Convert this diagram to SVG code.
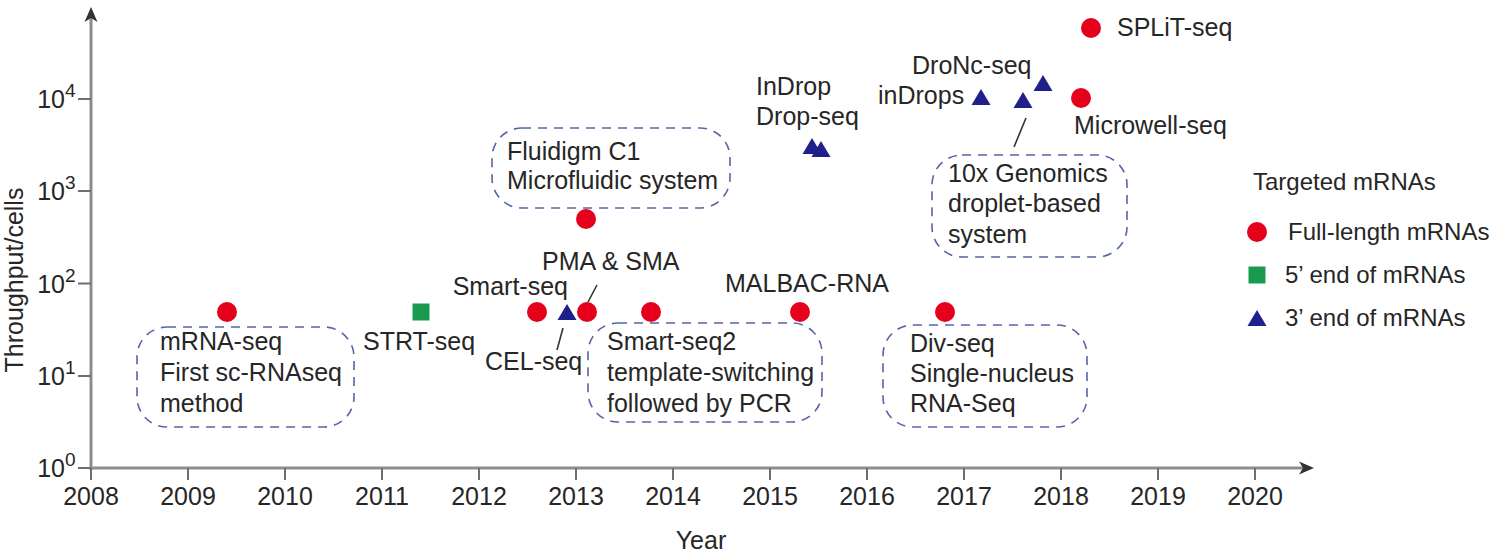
<svg xmlns="http://www.w3.org/2000/svg" width="1498" height="557" viewBox="0 0 1498 557">
<style>
text{font-family:"Liberation Sans",Arial,sans-serif;font-size:25px;fill:#262626}
.sup{font-size:19px}
.leg{font-size:24px}
.axis{stroke:#8c8c8c;stroke-width:3;fill:none}
.tick{stroke:#6e6e6e;stroke-width:2}
.box{fill:none;stroke:#5565a8;stroke-width:1.6;stroke-dasharray:9 7}
.lead{stroke:#333;stroke-width:1.6}
.red{fill:#e5001b}
.green{fill:#1a9a4f}
.blue{fill:#20208a}
</style>
<defs>
<circle id="dot" r="10" class="red"/>
<rect id="sq" x="-8.5" y="-8.5" width="17" height="17" class="green"/>
<polygon id="tri" points="0,-9 -9.5,7 9.5,7" class="blue"/>
</defs>
<g id="axes">
<line class="axis" x1="91" y1="468" x2="1305" y2="468"/>
<line class="axis" x1="91" y1="470" x2="91" y2="16"/>
<polygon points="1314,468 1299,461.5 1303,468 1299,474.5" fill="#333"/>
<polygon points="91,7 84.5,22 91,18 97.5,22" fill="#333"/>
<g class="tick">
<line x1="91" y1="468" x2="91" y2="480"/><line x1="188" y1="468" x2="188" y2="480"/><line x1="285" y1="468" x2="285" y2="480"/><line x1="382" y1="468" x2="382" y2="480"/><line x1="479" y1="468" x2="479" y2="480"/><line x1="576" y1="468" x2="576" y2="480"/><line x1="673" y1="468" x2="673" y2="480"/><line x1="770" y1="468" x2="770" y2="480"/><line x1="867" y1="468" x2="867" y2="480"/><line x1="964" y1="468" x2="964" y2="480"/><line x1="1061" y1="468" x2="1061" y2="480"/><line x1="1158" y1="468" x2="1158" y2="480"/><line x1="1255" y1="468" x2="1255" y2="480"/>
<line x1="78" y1="468" x2="91" y2="468"/><line x1="78" y1="376" x2="91" y2="376"/><line x1="78" y1="283.5" x2="91" y2="283.5"/><line x1="78" y1="191" x2="91" y2="191"/><line x1="78" y1="99" x2="91" y2="99"/>
</g>
<g text-anchor="middle">
<text x="91" y="505">2008</text><text x="188" y="505">2009</text><text x="285" y="505">2010</text><text x="382" y="505">2011</text><text x="479" y="505">2012</text><text x="576" y="505">2013</text><text x="673" y="505">2014</text><text x="770" y="505">2015</text><text x="867" y="505">2016</text><text x="964" y="505">2017</text><text x="1061" y="505">2018</text><text x="1158" y="505">2019</text><text x="1255" y="505">2020</text>
</g>
<g text-anchor="end">
<text x="65" y="477">10</text><text x="65" y="385">10</text><text x="65" y="292.5">10</text><text x="65" y="200">10</text><text x="65" y="108">10</text>
</g>
<g>
<text class="sup" x="65" y="466">0</text><text class="sup" x="65" y="374">1</text><text class="sup" x="65" y="281.5">2</text><text class="sup" x="65" y="189">3</text><text class="sup" x="65" y="97">4</text>
</g>
<text x="701" y="549" text-anchor="middle">Year</text>
<text transform="translate(23,280) rotate(-90)" text-anchor="middle">Throughput/cells</text>
</g>
<g id="connectors">
<line class="lead" x1="597" y1="285" x2="588" y2="302"/>
<line class="lead" x1="563" y1="328" x2="557" y2="350"/>
<line class="lead" x1="1026" y1="118" x2="1014" y2="147"/>
</g>
<g id="mrna-seq">
<use href="#dot" x="227" y="312"/>
<rect class="box" x="137" y="327" width="217" height="100" rx="30"/>
<text x="160" y="350">mRNA-seq</text><text x="160" y="381">First sc-RNAseq</text><text x="160" y="412">method</text>
</g>
<g id="strt-seq">
<use href="#sq" x="421" y="312"/>
<text x="363" y="350">STRT-seq</text>
</g>
<g id="smart-seq">
<use href="#dot" x="537" y="312"/>
<text x="568" y="295" text-anchor="end">Smart-seq</text>
</g>
<g id="cel-seq">
<use href="#tri" x="567" y="313"/>
<text x="485" y="370">CEL-seq</text>
</g>
<g id="pma-sma">
<use href="#dot" x="587" y="312"/>
<text x="542" y="270">PMA &amp; SMA</text>
</g>
<g id="fluidigm">
<use href="#dot" x="586" y="219"/>
<rect class="box" x="492" y="128" width="238" height="80" rx="30"/>
<text x="507" y="160">Fluidigm C1</text><text x="507" y="189">Microfluidic system</text>
</g>
<g id="smart-seq2">
<use href="#dot" x="651" y="312"/>
<rect class="box" x="588" y="323" width="234" height="99" rx="30"/>
<text x="607" y="350">Smart-seq2</text><text x="607" y="381">template-switching</text><text x="607" y="412">followed by PCR</text>
</g>
<g id="malbac">
<use href="#dot" x="800" y="312"/>
<text x="725" y="292">MALBAC-RNA</text>
</g>
<g id="drop-seq">
<use href="#tri" x="812" y="147"/>
<use href="#tri" x="821" y="150"/>
<text x="756" y="95">InDrop</text><text x="756" y="125">Drop-seq</text>
</g>
<g id="div-seq">
<use href="#dot" x="945" y="312"/>
<rect class="box" x="883" y="325" width="204" height="102" rx="30"/>
<text x="910" y="352">Div-seq</text><text x="910" y="382">Single-nucleus</text><text x="910" y="412">RNA-Seq</text>
</g>
<g id="indrops">
<use href="#tri" x="981" y="98"/>
<text x="878" y="104">inDrops</text>
</g>
<g id="tenx">
<use href="#tri" x="1023" y="101"/>
<rect class="box" x="932" y="155" width="195" height="102" rx="30"/>
<text x="948" y="182">10x Genomics</text><text x="948" y="212">droplet-based</text><text x="948" y="243">system</text>
</g>
<g id="dronc-seq">
<use href="#tri" x="1043" y="84"/>
<text x="912" y="74">DroNc-seq</text>
</g>
<g id="microwell-seq">
<use href="#dot" x="1081" y="98"/>
<text x="1074" y="134">Microwell-seq</text>
</g>
<g id="split-seq">
<use href="#dot" x="1091" y="28"/>
<text x="1117" y="36">SPLiT-seq</text>
</g>
<g id="legend">
<text class="leg" x="1253" y="190">Targeted mRNAs</text>
<use href="#dot" x="1257" y="232"/>
<text class="leg" x="1288" y="240">Full-length mRNAs</text>
<use href="#sq" x="1257" y="275"/>
<text class="leg" x="1285" y="283">5’ end of mRNAs</text>
<use href="#tri" x="1257" y="319"/>
<text class="leg" x="1285" y="326">3’ end of mRNAs</text>
</g>
</svg>
